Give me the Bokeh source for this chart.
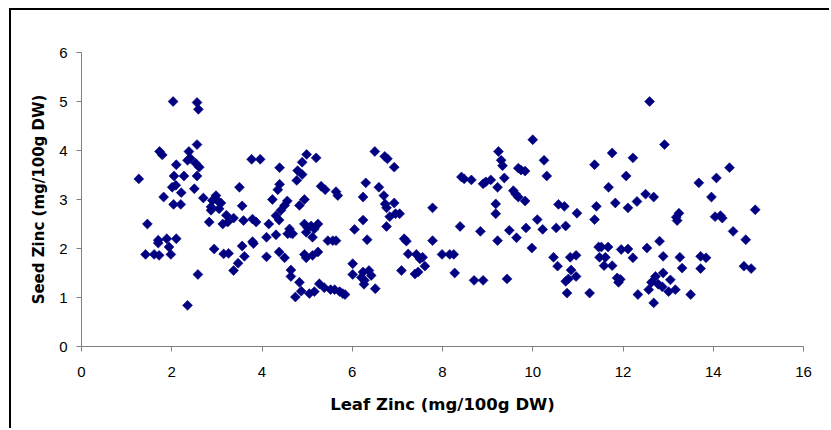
import math
from bokeh.plotting import figure
from bokeh.models import ColumnDataSource, FixedTicker
from bokeh.embed import file_html
from bokeh.resources import INLINE

# Leaf zinc (x) and seed zinc (y), mg/100g DW
leaf_zinc = [
    2.03, 2.56, 2.59, 2.56, 1.73, 1.79, 2.38, 2.35, 2.41, 2.53, 2.61, 2.10,
    1.27, 2.05, 2.27, 2.56, 2.01, 2.09, 2.21, 2.50, 3.50, 1.82, 2.04, 2.20, 2.70,
    2.98, 2.90, 3.01, 2.87, 2.87, 3.05, 3.09,
    3.56, 3.21, 3.37, 3.13, 3.24, 2.83, 3.59, 3.79, 3.87, 4.15,
    3.77, 3.96, 4.31, 4.39, 4.35, 4.39, 4.23,
    1.46, 1.70, 1.70, 1.89, 2.10, 1.94,
    1.42, 1.61, 1.72, 1.98,
    2.94, 3.15, 3.26, 3.56, 3.79, 3.81, 3.61, 3.47, 3.37,
    4.10, 4.31, 4.10, 4.38, 2.58, 2.35,
    # 4.4 - 7.5
    4.99, 4.89, 5.20, 4.79, 4.89, 4.77, 4.56, 4.50, 4.42, 4.38, 4.94, 4.83,
    5.31, 5.40, 5.64, 5.68, 4.61, 4.64, 4.57, 4.68, 4.94, 5.01, 5.09, 5.24,
    4.98, 5.16, 5.12, 5.46, 5.57, 5.64, 4.50, 4.94, 4.98, 5.12, 5.24,
    4.64, 4.64, 4.83, 4.87, 4.74, 5.05, 5.16, 5.27, 5.38, 5.52, 5.61, 5.72, 5.79, 5.84,
    6.50, 6.72, 6.78, 6.93, 6.30, 6.24, 6.59, 6.70, 6.73, 6.76, 6.93, 6.83, 6.96, 7.05,
    6.76, 6.24, 6.05, 6.33, 7.15, 7.20, 7.24, 7.42, 7.50, 7.09, 7.39, 7.46,
    6.01, 6.01, 6.24, 6.20, 6.27, 6.37, 6.42, 6.26, 6.51,
    # 7.5 - 10.6
    10.00, 9.24, 9.30, 9.33, 10.25, 8.42, 8.48, 8.64, 8.90, 8.96, 9.07, 9.37, 9.22,
    9.68, 9.74, 9.83, 10.31, 9.57, 9.62, 9.68, 9.83, 9.18, 9.18, 10.57, 7.78,
    8.39, 8.84, 9.48, 9.64, 9.85, 10.10, 10.22, 10.52, 9.22, 7.78, 9.98,
    7.56, 7.61, 7.99, 8.16, 8.25, 8.27, 8.70, 8.90, 9.43, 10.46, 10.55,
    # 10.6 - 13.8
    12.59, 12.92, 11.76, 12.22, 11.37, 12.07, 11.68, 12.50, 12.68, 12.31, 11.83, 12.11,
    13.68, 10.70, 10.98, 11.41, 11.37, 13.24, 13.18, 13.20, 10.73,
    11.52, 11.46, 11.67, 11.96, 12.11, 12.53, 12.81,
    10.83, 10.96, 11.48, 11.61, 12.22, 12.89, 13.26, 13.72, 11.58, 11.76,
    10.85, 10.96, 10.79, 10.73, 11.87, 11.94, 11.90, 12.89, 13.05,
    12.72, 12.63, 12.78, 12.87, 12.57, 13.01, 13.16, 13.31, 13.72,
    10.76, 11.26, 12.33, 12.68, 13.50,
    # 13.8 - 15
    14.36, 14.07, 13.96, 14.04, 14.16, 14.20, 14.93, 14.44, 14.72, 13.84, 14.68, 14.84,
]
seed_zinc = [
    5.00, 4.98, 4.84, 4.12, 3.98, 3.91, 3.98, 3.80, 3.84, 3.74, 3.66, 3.71,
    3.42, 3.48, 3.48, 3.48, 3.25, 3.29, 3.14, 3.22, 3.25, 3.05, 2.90, 2.90, 3.03,
    3.08, 2.98, 2.98, 2.85, 2.78, 2.81, 2.93,
    2.87, 2.68, 2.62, 2.50, 2.54, 2.54, 2.57, 2.60, 2.54, 2.50,
    3.82, 3.82, 2.67, 3.65, 3.20, 3.31, 3.00,
    2.50, 2.17, 2.11, 2.20, 2.20, 2.03,
    1.88, 1.88, 1.86, 1.88,
    1.99, 1.89, 1.90, 2.05, 2.14, 2.10, 1.84, 1.70, 1.55,
    2.23, 2.28, 1.83, 1.93, 1.47, 0.84,
    # 4.4 - 7.5
    3.92, 3.76, 3.85, 3.59, 3.51, 3.39, 2.97, 2.88, 2.78, 2.58, 3.00, 2.88,
    3.27, 3.20, 3.16, 3.08, 2.40, 2.31, 2.30, 2.30, 2.50, 2.43, 2.46, 2.50,
    2.33, 2.40, 2.23, 2.16, 2.16, 2.16, 1.81, 1.88, 1.81, 1.86, 1.93,
    1.56, 1.43, 1.31, 1.13, 1.01, 1.08, 1.12, 1.28, 1.20, 1.16, 1.16, 1.12, 1.08, 1.06,
    3.98, 3.88, 3.83, 3.66, 3.34, 3.05, 3.25, 3.08, 2.91, 2.83, 2.93, 2.65, 2.71, 2.71,
    2.45, 2.58, 2.39, 2.18, 2.20, 2.15, 1.89, 1.88, 1.79, 1.55, 1.48, 1.52,
    1.69, 1.47, 1.52, 1.41, 1.35, 1.55, 1.45, 1.27, 1.18,
    # 7.5 - 10.6
    4.22, 3.98, 3.80, 3.69, 3.80, 3.46, 3.42, 3.40, 3.32, 3.36, 3.40, 3.44, 3.25,
    3.64, 3.60, 3.58, 3.48, 3.18, 3.11, 3.05, 2.97, 2.91, 2.71, 2.90, 2.83,
    2.45, 2.35, 2.37, 2.22, 2.42, 2.59, 2.39, 2.42, 2.16, 2.16, 2.01,
    1.82, 1.64, 1.88, 1.88, 1.88, 1.50, 1.35, 1.35, 1.38, 1.82, 1.64,
    # 10.6 - 13.8
    5.00, 4.12, 3.95, 3.85, 3.71, 3.48, 3.25, 3.11, 3.05, 2.96, 2.93, 2.83,
    3.34, 2.86, 2.72, 2.86, 2.59, 2.72, 2.64, 2.57, 2.46,
    2.03, 2.03, 2.03, 1.98, 1.99, 2.01, 2.15,
    1.82, 1.86, 1.82, 1.82, 1.81, 1.84, 1.82, 1.84, 1.65, 1.65,
    1.56, 1.43, 1.38, 1.33, 1.40, 1.37, 1.31, 1.50, 1.36,
    1.43, 1.31, 1.27, 1.22, 1.16, 1.12, 1.16, 1.60, 1.59,
    1.09, 1.09, 1.06, 0.89, 1.06,
    # 13.8 - 15
    3.65, 3.44, 3.05, 2.65, 2.67, 2.62, 2.79, 2.35, 2.18, 1.81, 1.64, 1.59,
]

x_ticks = [0, 2, 4, 6, 8, 10, 12, 14, 16]
y_ticks = [0, 1, 2, 3, 4, 5, 6]
x_title = "Leaf Zinc (mg/100g DW)"
y_title = "Seed Zinc (mg/100g DW)"

source = ColumnDataSource(data=dict(x=leaf_zinc, y=seed_zinc))

p = figure(width=820, height=420, x_range=(0, 16), y_range=(0, 6),
           output_backend="svg", toolbar_location=None,
           min_border_left=70, min_border_right=28, min_border_top=42, min_border_bottom=84)
p.styles = {"margin-left": "9px", "margin-top": "8px",
            "border-left": "2px solid black", "border-top": "2px solid black"}

p.scatter("x", "y", source=source, marker="square", angle=math.pi / 4, size=7,
          fill_color="#000080", line_color="#000080", line_width=0.6)

p.grid.visible = False
p.outline_line_color = None
p.background_fill_color = "white"
p.border_fill_color = "white"

for ax, ticks in ((p.xaxis[0], x_ticks), (p.yaxis[0], y_ticks)):
    ax.ticker = FixedTicker(ticks=ticks)
    ax.minor_tick_line_color = None
    ax.major_tick_in = 0
    ax.major_tick_out = 5
    ax.axis_line_color = "#808080"
    ax.major_tick_line_color = "#808080"
    ax.major_label_text_font = "Liberation Sans"
    ax.major_label_text_font_size = "15px"
    ax.major_label_text_color = "black"
    ax.axis_label_text_font = "DejaVu Sans"
    ax.axis_label_text_font_style = "bold"
    ax.axis_label_text_color = "black"

p.xaxis.axis_label = x_title
p.yaxis.axis_label = y_title
p.xaxis.axis_label_text_font_size = "16.5px"
p.yaxis.axis_label_text_font_size = "15px"
p.xaxis.major_label_standoff = 15
p.yaxis.major_label_standoff = 9
p.xaxis.axis_label_standoff = 15
p.yaxis.axis_label_standoff = 8

open("out.html", "w").write(file_html(p, INLINE))
